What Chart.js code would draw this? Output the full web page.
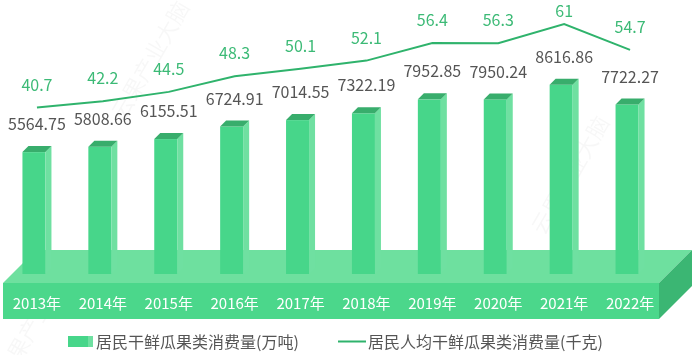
<!DOCTYPE html>
<html>
<head>
<meta charset="utf-8">
<script src="https://cdn.jsdelivr.net/npm/chart.js@4.4.1/dist/chart.umd.min.js"></script>
<style>
html,body{margin:0;padding:0;background:#fff;}
#wrap{width:693px;height:355px;position:relative;}
</style>
</head>
<body>
<div id="wrap"><canvas id="c" width="693" height="355"></canvas></div>
<script>
const categories = ['2013年','2014年','2015年','2016年','2017年','2018年','2019年','2020年','2021年','2022年'];
const consumption = [5564.75, 5808.66, 6155.51, 6724.91, 7014.55, 7322.19, 7952.85, 7950.24, 8616.86, 7722.27];
const perCapita = [40.7, 42.2, 44.5, 48.3, 50.1, 52.1, 56.4, 56.3, 61, 54.7];
const seriesNames = ['居民干鲜瓜果类消费量(万吨)', '居民人均干鲜瓜果类消费量(千克)'];
const watermarkText = '云果产业大脑';

const FONT = '"Noto Sans CJK SC", "Noto Sans", sans-serif';
const C_FRONT = '#47d68a';
const C_SIDE = '#6fe0a1';
const C_TOP = '#38ad6c';
const C_PLAT_FRONT = '#4bd78b';
const C_PLAT_TOP = '#6ee09f';
const C_PLAT_SIDE = '#3bb673';
const C_LINE = '#2fb36c';
const C_LINE_LABEL = '#3cba76';
const C_TEXT = '#555555';

const platformPlugin = {
  id: 'platform',
  beforeDraw(chart) {
    const ctx = chart.ctx, a = chart.chartArea;
    const L = a.left - 1, R = a.right - 4, top = a.bottom + 8, bot = a.bottom + 44, d = 33;
    ctx.save();
    // watermark
    ctx.fillStyle = 'rgba(0,0,0,0.03)';
    ctx.font = '22px ' + FONT;
    [[150, 60], [570, 175], [35, 320]].forEach(p => {
      ctx.save(); ctx.translate(p[0], p[1]); ctx.rotate(-Math.PI / 3);
      ctx.textAlign = 'center'; ctx.textBaseline = 'middle';
      ctx.fillText(watermarkText, 0, 0);
      ctx.restore();
    });
    // top face
    ctx.fillStyle = C_PLAT_TOP;
    ctx.beginPath();
    ctx.moveTo(L, top); ctx.lineTo(L + d, top - d); ctx.lineTo(R + d, top - d); ctx.lineTo(R, top);
    ctx.closePath(); ctx.fill();
    // side face
    ctx.fillStyle = C_PLAT_SIDE;
    ctx.beginPath();
    ctx.moveTo(R, top); ctx.lineTo(R + d, top - d); ctx.lineTo(R + d, bot - d); ctx.lineTo(R, bot);
    ctx.closePath(); ctx.fill();
    // front face
    ctx.fillStyle = C_PLAT_FRONT;
    ctx.fillRect(L, top, R - L, bot - top);
    ctx.restore();
  }
};

const bars3dPlugin = {
  id: 'bars3d',
  beforeDatasetsDraw(chart) {
    const ctx = chart.ctx;
    const meta = chart.getDatasetMeta(0);
    const dp = 6;
    ctx.save();
    meta.data.forEach(el => {
      const x = el.x, y = el.y, base = el.base - 1, w = el.width;
      const l = x - w / 2, r = x + w / 2 - dp;
      ctx.fillStyle = C_FRONT;
      ctx.fillRect(l, y, r - l, base - y);
      ctx.fillStyle = C_SIDE;
      ctx.beginPath();
      ctx.moveTo(r, y); ctx.lineTo(r + dp, y - dp); ctx.lineTo(r + dp, base - dp); ctx.lineTo(r, base);
      ctx.closePath(); ctx.fill();
      ctx.fillStyle = C_TOP;
      ctx.beginPath();
      ctx.moveTo(l, y); ctx.lineTo(l + dp, y - dp); ctx.lineTo(r + dp, y - dp); ctx.lineTo(r, y);
      ctx.closePath(); ctx.fill();
    });
    ctx.restore();
  }
};

const labelsPlugin = {
  id: 'labelsAndLegend',
  afterDatasetsDraw(chart) {
    const ctx = chart.ctx;
    ctx.save();
    ctx.textAlign = 'center';
    ctx.textBaseline = 'middle';
    ctx.font = '16px ' + FONT;
    ctx.fillStyle = C_TEXT;
    chart.getDatasetMeta(0).data.forEach((el, i) => {
      ctx.fillText(String(consumption[i]), el.x, el.y - 28);
    });
    ctx.fillStyle = C_LINE_LABEL;
    chart.getDatasetMeta(1).data.forEach((el, i) => {
      ctx.fillText(String(perCapita[i]), el.x, Math.max(el.y - 23, 11));
    });
    // legend
    ctx.textAlign = 'left';
    ctx.fillStyle = C_FRONT;
    ctx.fillRect(68, 336, 20, 11);
    ctx.fillStyle = C_SIDE;
    ctx.fillRect(88, 336, 5, 11);
    ctx.fillStyle = C_TEXT;
    ctx.fillText(seriesNames[0], 96, 342);
    ctx.strokeStyle = C_LINE;
    ctx.lineWidth = 2;
    ctx.beginPath(); ctx.moveTo(338, 341.5); ctx.lineTo(366, 341.5); ctx.stroke();
    ctx.fillText(seriesNames[1], 368, 342);
    ctx.restore();
  }
};

new Chart(document.getElementById('c'), {
  type: 'bar',
  data: {
    labels: categories,
    datasets: [
      {
        type: 'bar',
        label: seriesNames[0],
        data: consumption,
        yAxisID: 'y',
        backgroundColor: 'rgba(0,0,0,0)',
        barThickness: 29,
        order: 2
      },
      {
        type: 'line',
        label: seriesNames[1],
        data: perCapita,
        yAxisID: 'y1',
        borderColor: C_LINE,
        borderWidth: 2,
        pointRadius: 0,
        tension: 0,
        fill: false,
        order: 1
      }
    ]
  },
  options: {
    responsive: false,
    devicePixelRatio: 1,
    animation: false,
    layout: { padding: { left: 4, right: 30, top: 10, bottom: 24 } },
    plugins: { legend: { display: false }, tooltip: { enabled: false } },
    scales: {
      x: {
        offset: true,
        grid: { display: false, drawTicks: false },
        border: { display: false },
        ticks: { color: '#ffffff', font: { size: 15, family: FONT }, padding: 19, maxRotation: 0 },
        afterFit(scale) { scale.paddingLeft = 0; scale.paddingRight = 0; }
      },
      y: { display: false, min: 0, max: 12000 },
      y1: { display: false, min: 0, max: 64.4 }
    }
  },
  plugins: [platformPlugin, bars3dPlugin, labelsPlugin]
});
</script>
</body>
</html>
